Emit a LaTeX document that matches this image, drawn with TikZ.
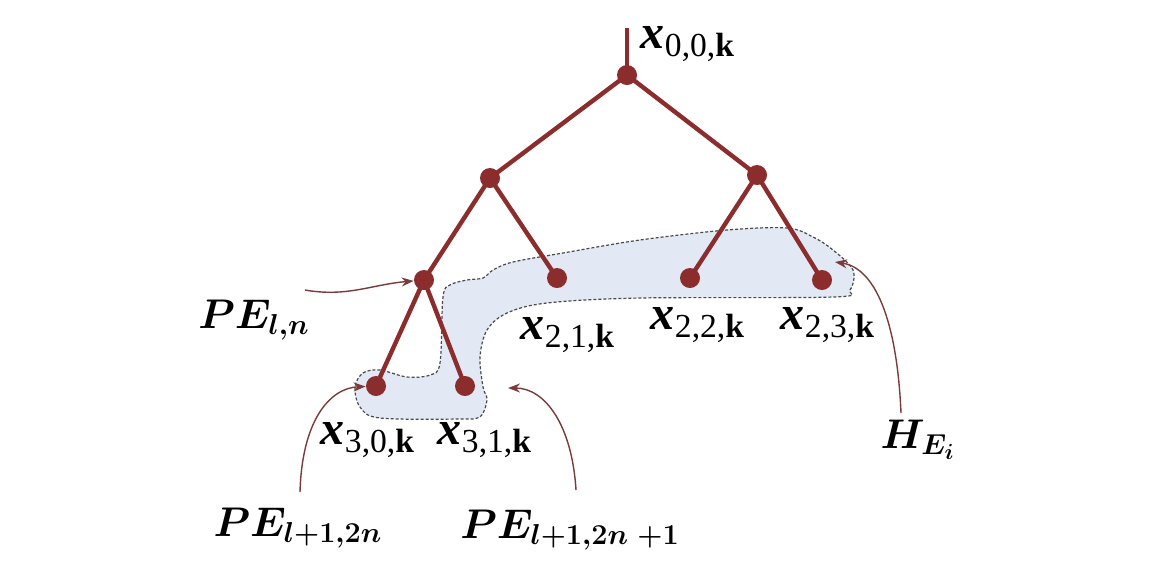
\documentclass[tikz,border=0pt]{standalone}
\usepackage{amsmath,bm}
\usepackage{fontspec}
\setmainfont{Liberation Serif}
\usetikzlibrary{arrows.meta}
\definecolor{TreeRed}{HTML}{8C2D2D}
\definecolor{PointerRed}{HTML}{7A3B3B}
\definecolor{BlobBlue}{HTML}{E2E9F4}
\definecolor{BlobEdge}{HTML}{4A4A4A}
\newcommand{\xlab}[1]{\textbf{\textit{x}}\textsubscript{#1,\textbf{k}}}

\begin{document}
\begin{tikzpicture}[x=0.5pt, y=-0.5pt,
    dot/.style={circle, fill=TreeRed, inner sep=0pt, minimum size=10pt},
    edge/.style={draw=TreeRed, line width=2.2pt},
    pointer/.style={-{Stealth[length=6pt,width=4.5pt]}, draw=PointerRed, line width=0.7pt},
    lab/.style={font=\fontsize{24}{26}\selectfont, inner sep=0pt},
    pelab/.style={font=\fontsize{21}{24}\selectfont, inner sep=0pt},
    blob/.style={fill=BlobBlue, draw=BlobEdge, line width=0.6pt, dash pattern=on 1.5pt off 1pt}
  ]
    \useasboundingbox (0,0) rectangle (1151,570);
    % shaded group
    \draw[blob] plot[smooth cycle, tension=0.55] coordinates {
      (355,387) (363,373) (380,370) (407,377) (430,375) (440,363)
      (443,297) (450,285) (467,280) (483,278) (493,270) (513,262)
      (563,253) (640,240) (727,230) (787,228) (813,237) (833,250)
      (853,270) (850,290) (833,297) (640,298) (547,303) (507,313)
      (487,330) (480,357) (483,387) (487,400) (480,417) (460,419)
      (380,418) (360,407)};
    % tree
    \coordinate (top) at (627,28);
    \node[dot] (n00) at (627,75) {};
    \node[dot] (n10) at (490,178) {};
    \node[dot] (n11) at (757,175) {};
    \node[dot] (n20) at (424,280) {};
    \node[dot] (n21) at (557,278) {};
    \node[dot] (n22) at (690,278) {};
    \node[dot] (n23) at (822,280) {};
    \node[dot] (n30) at (376,386) {};
    \node[dot] (n31) at (465,386) {};
    \draw[edge] (top) -- (n00.center);
    \draw[edge] (n00.center) -- (n10.center);
    \draw[edge] (n00.center) -- (n11.center);
    \draw[edge] (n10.center) -- (n20.center);
    \draw[edge] (n10.center) -- (n21.center);
    \draw[edge] (n11.center) -- (n22.center);
    \draw[edge] (n11.center) -- (n23.center);
    \draw[edge] (n20.center) -- (n30.center);
    \draw[edge] (n20.center) -- (n31.center);
    % labels
    \node[lab] (l00) at (688,44) {\xlab{0,0}};
    \node[lab] (l21) at (568,335) {\xlab{2,1}};
    \node[lab] (l22) at (698,325) {\xlab{2,2}};
    \node[lab] (l23) at (828,325) {\xlab{2,3}};
    \node[lab] (l30) at (368,440) {\xlab{3,0}};
    \node[lab] (l31) at (485,440) {\xlab{3,1}};
    \node[pelab] (peln) at (254,320) {$\bm{PE_{l,n}}$};
    \node[pelab] (pel2n) at (298,528) {$\bm{PE_{l+1,2n}}$};
    \node[pelab] (pel2n1) at (570,530) {$\bm{PE_{l+1,2n\;+1}}$};
    \node[pelab] (hei) at (918,440) {$\bm{H_{E_i}}$};
    % pointers
    \coordinate (peln-s) at (305,290);
    \coordinate (pel2n-s) at (300,492);
    \coordinate (pel2n1-s) at (576,490);
    \coordinate (hei-s) at (901,413);
    \coordinate (pel2n1-e) at (508,388);
    \coordinate (hei-e) at (835,262);
    \draw[pointer] (peln-s) to[out=-10, in=185] (n20);
    \draw[pointer] (pel2n-s) .. controls (302,420) and (330,388) .. (n30);
    \draw[pointer] (pel2n1-s) .. controls (572,425) and (545,388) .. (pel2n1-e);
    \draw[pointer] (hei-s) .. controls (897,320) and (875,268) .. (hei-e);
  \end{tikzpicture}
\end{document}
